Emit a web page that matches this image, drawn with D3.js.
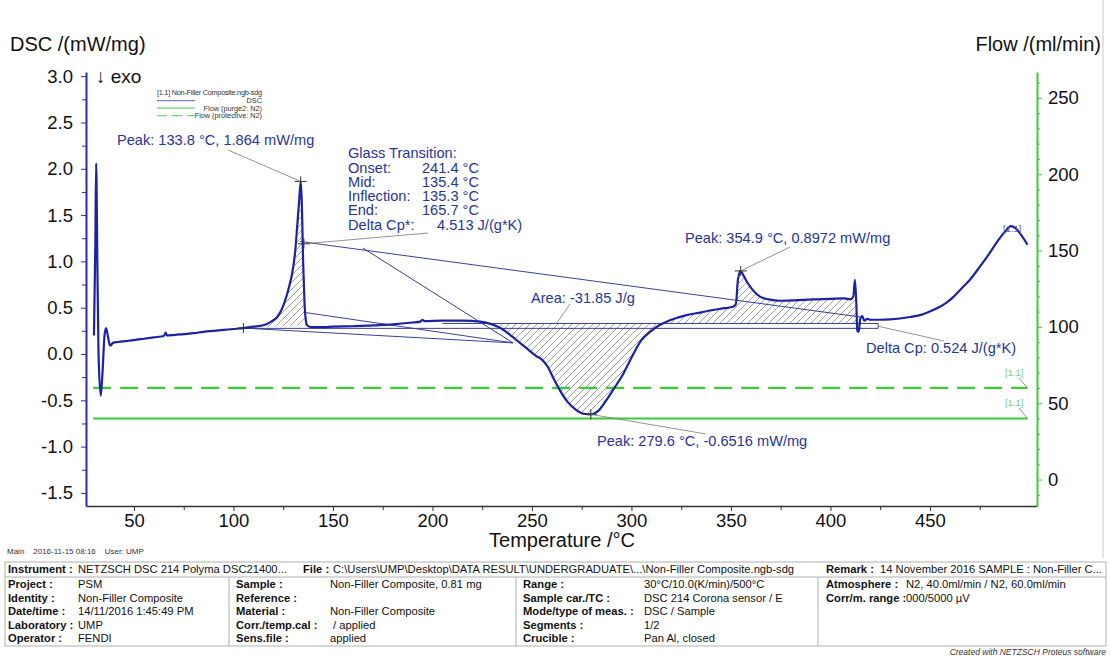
<!DOCTYPE html>
<html lang="en">
<head>
<meta charset="UTF-8">
<title>DSC - Non-Filler Composite</title>
<script src="https://d3js.org/d3.v7.min.js"></script>
<style>
  body { margin: 0; background: #fff; }
  svg { display: block; font-family: 'Liberation Sans', Arial, sans-serif; }
  .annot { fill: #27349a; font-size: 14.6px; }
  .tbl { font-size: 11.2px; fill: #111; }
  .lab { font-weight: bold; }
</style>
</head>
<body>
<svg id="chart" width="1110" height="658"></svg>
<script>
// DSC trace (temperature in °C, DSC in mW/mg)
const temps = [29.9, 30.6, 31.0, 31.6, 32.2, 33.3, 34.2, 35.2, 36.0, 37.0,
  38.0, 39.5, 42, 46, 50, 55, 60, 65, 66, 66.5,
  70, 75, 80, 85, 90, 95, 100, 105, 110, 115,
  119, 122, 124, 126, 128, 129.5, 131, 132, 133, 133.8,
  134.4, 135.0, 135.4, 135.8, 136.3, 137, 139, 145, 150, 160,
  170, 180, 190, 194, 195, 196, 205, 215, 224, 230,
  235, 240, 244, 248, 252, 255, 258, 261, 264, 268,
  272, 276, 279.6, 283, 287, 291, 296, 300, 305, 310,
  314, 320, 327.7, 335, 341, 347, 351, 352.5, 353.5, 354.9,
  356, 358, 361, 364.6, 369, 374.6, 382, 391, 400, 407,
  410, 411.5, 412.3, 413, 413.5, 414.2, 415, 416, 417, 418.5,
  420, 425, 430, 440, 445, 450, 455, 458, 462, 466,
  470, 475, 480, 484, 488.5, 490.5, 493, 496, 499];
const dsc = [0.20, 1.20, 2.06, 1.00, 0.00, -0.45, -0.20, 0.20, 0.28, 0.18,
  0.09, 0.12, 0.13, 0.14, 0.15, 0.165, 0.18, 0.195, 0.23, 0.20,
  0.205, 0.215, 0.225, 0.24, 0.25, 0.26, 0.27, 0.28, 0.295, 0.31,
  0.35, 0.40, 0.47, 0.58, 0.73, 0.87, 1.10, 1.37, 1.65, 1.864,
  1.60, 1.00, 0.75, 0.51, 0.38, 0.31, 0.29, 0.29, 0.295, 0.30,
  0.31, 0.32, 0.34, 0.35, 0.37, 0.355, 0.36, 0.36, 0.35, 0.32,
  0.27, 0.19, 0.12, 0.05, -0.02, -0.06, -0.14, -0.27, -0.39, -0.52,
  -0.60, -0.645, -0.6516, -0.62, -0.51, -0.38, -0.21, -0.04, 0.15, 0.25,
  0.31, 0.37, 0.42, 0.45, 0.475, 0.495, 0.51, 0.54, 0.80, 0.8972,
  0.86, 0.78, 0.69, 0.62, 0.59, 0.575, 0.58, 0.59, 0.595, 0.60,
  0.59, 0.62, 0.80, 0.55, 0.25, 0.24, 0.38, 0.41, 0.36, 0.38,
  0.37, 0.37, 0.375, 0.40, 0.42, 0.46, 0.51, 0.55, 0.62, 0.71,
  0.80, 0.94, 1.09, 1.22, 1.34, 1.38, 1.36, 1.28, 1.18];

// gas flows (ml/min)
const flowTemps = [29.5, 499];
const flowPurge = [40, 40];
const flowProtective = [60, 60];

// evaluation results
const peaks = [[133.8, 1.864], [279.6, -0.6516], [354.9, 0.8972]];
const glassPoint = [135.4, 1.19];
const onsetPoint = [105, 0.28];
const peak1Base = [[105, 0.28], [137, 0.31]];
const areaRange = [229, 413];
const areaBase = 0.33;
const constructionLines = [
  [[105, 0.277], [424, 0.277]],
  [[205, 0.33], [424, 0.33]],
  [[424, 0.277], [424, 0.33]],
  [[105, 0.28], [240.5, 0.12]],
  [[135.4, 0.45], [240.5, 0.12]],
  [[165, 1.145], [240.5, 0.12]],
  [[133.5, 1.215], [415, 0.40]]
];

// ticks
const xTicks = [50, 100, 150, 200, 250, 300, 350, 400, 450];
const xMinor = [75, 125, 175, 225, 275, 325, 375, 425, 475];
const yTicks = [-1.5, -1.0, -0.5, 0.0, 0.5, 1.0, 1.5, 2.0, 2.5, 3.0];
const yMinor = [-1.25, -0.75, -0.25, 0.25, 0.75, 1.25, 1.75, 2.25, 2.75];
const flowTicks = [0, 50, 100, 150, 200, 250];
const flowMinor = d3.range(-10, 261, 10).filter(d => d % 50 !== 0);

// info table
const headerRow = [
  ['Instrument :', 'NETZSCH DSC 214 Polyma DSC21400...'],
  ['File :', 'C:\\Users\\UMP\\Desktop\\DATA RESULT\\UNDERGRADUATE\\...\\Non-Filler Composite.ngb-sdg'],
  ['Remark :', '14 November 2016 SAMPLE : Non-Filler C...']
];
const tableRows = [
  ['Project :', 'PSM', 'Sample :', 'Non-Filler Composite, 0.81 mg', 'Range :', '30°C/10.0(K/min)/500°C', 'Atmosphere :', 'N2, 40.0ml/min / N2, 60.0ml/min'],
  ['Identity :', 'Non-Filler Composite', 'Reference :', '', 'Sample car./TC :', 'DSC 214 Corona sensor / E', 'Corr/m. range :', '000/5000 µV'],
  ['Date/time :', '14/11/2016 1:45:49 PM', 'Material :', 'Non-Filler Composite', 'Mode/type of meas. :', 'DSC / Sample', '', ''],
  ['Laboratory :', 'UMP', 'Corr./temp.cal :', ' / applied', 'Segments :', '1/2', '', ''],
  ['Operator :', 'FENDI', 'Sens.file :', 'applied', 'Crucible :', 'Pan Al, closed', '', '']
];

const svg = d3.select('#chart');
const x = d3.scaleLinear().domain([25.9, 503.8]).range([86, 1037]);
const y = d3.scaleLinear().domain([-1.641, 3.045]).range([506, 72]);
const yFlow = d3.scaleLinear().domain([-17.3, 266.9]).range([506, 72]);

const curveBlue = '#1b22a3';
const green = '#3acb3a';
const pts = temps.map((t, i) => [t, dsc[i]]);

// hatch pattern
const defs = svg.append('defs');
defs.append('pattern')
  .attr('id', 'hatch')
  .attr('patternUnits', 'userSpaceOnUse')
  .attr('width', 7).attr('height', 7)
  .append('path')
  .attr('d', 'M-1,1 l2,-2 M0,7 l7,-7 M6,8 l2,-2')
  .attr('stroke', '#8c8c8c')
  .attr('stroke-width', 0.8);

// hatched areas
const base1 = t => peak1Base[0][1] + (t - peak1Base[0][0]) * (peak1Base[1][1] - peak1Base[0][1]) / (peak1Base[1][0] - peak1Base[0][0]);
const area1 = d3.area().x(d => x(d[0])).y0(d => y(base1(d[0]))).y1(d => y(d[1])).curve(d3.curveMonotoneX);
svg.append('path')
  .datum(pts.filter(d => d[0] >= peak1Base[0][0] && d[0] <= peak1Base[1][0]))
  .attr('d', area1)
  .attr('fill', 'url(#hatch)');
const area2 = d3.area().x(d => x(d[0])).y0(y(areaBase)).y1(d => y(d[1])).curve(d3.curveMonotoneX);
svg.append('path')
  .datum(pts.filter(d => d[0] >= areaRange[0] && d[0] <= areaRange[1]))
  .attr('d', area2)
  .attr('fill', 'url(#hatch)');

// construction lines
svg.append('g')
  .selectAll('line')
  .data(constructionLines)
  .join('line')
  .attr('x1', d => x(d[0][0])).attr('y1', d => y(d[0][1]))
  .attr('x2', d => x(d[1][0])).attr('y2', d => y(d[1][1]))
  .attr('stroke', '#3a3f9a')
  .attr('stroke-width', 1);

// flow lines
svg.append('line')
  .attr('x1', x(flowTemps[0])).attr('x2', x(flowTemps[1]))
  .attr('y1', yFlow(flowProtective[0])).attr('y2', yFlow(flowProtective[1]))
  .attr('stroke', green).attr('stroke-width', 2.2)
  .attr('stroke-dasharray', '18,9');
svg.append('line')
  .attr('x1', x(flowTemps[0])).attr('x2', x(flowTemps[1]))
  .attr('y1', yFlow(flowPurge[0])).attr('y2', yFlow(flowPurge[1]))
  .attr('stroke', green).attr('stroke-width', 2);

// DSC curve
svg.append('path')
  .datum(pts)
  .attr('d', d3.line().x(d => x(d[0])).y(d => y(d[1])).curve(d3.curveMonotoneX))
  .attr('fill', 'none')
  .attr('stroke', curveBlue)
  .attr('stroke-width', 2.2)
  .attr('stroke-linejoin', 'round');

// cross markers
const crossPts = peaks.concat([glassPoint, onsetPoint]);
const crosses = svg.append('g').attr('stroke', '#333').attr('stroke-width', 1);
crossPts.forEach(p => {
  const cx = x(p[0]), cy = y(p[1]);
  crosses.append('line').attr('x1', cx - 6).attr('x2', cx + 6).attr('y1', cy).attr('y2', cy);
  crosses.append('line').attr('x1', cx).attr('x2', cx).attr('y1', cy - 5).attr('y2', cy + 5);
});

// leader lines from labels
const leaders = svg.append('g').attr('stroke', '#777').attr('stroke-width', 0.8);
const leader = (p, lx, ly) => leaders.append('line')
  .attr('x1', x(p[0])).attr('y1', y(p[1])).attr('x2', lx).attr('y2', ly);
leader(peaks[0], 228, 150);
leader(glassPoint, 428, 233);
leader(peaks[2], 790, 247);
leader(peaks[1], 706, 434);
leader([424, 0.30], 944, 341);
leader([262.5, 0.335], 570, 304);

// annotation text
const note = (tx, ty, str) => svg.append('text').attr('class', 'annot')
  .attr('x', tx).attr('y', ty).text(str);
note(117, 145, 'Peak: 133.8 °C, 1.864 mW/mg');
note(348, 158, 'Glass Transition:');
[['Onset:', '241.4 °C'], ['Mid:', '135.4 °C'], ['Inflection:', '135.3 °C'], ['End:', '165.7 °C']]
  .forEach((r, i) => {
    note(348, 172.5 + i * 14.2, r[0]);
    note(422, 172.5 + i * 14.2, r[1]);
  });
note(348, 229.5, 'Delta Cp*:');
note(437, 229.5, '4.513 J/(g*K)');
note(685, 243, 'Peak: 354.9 °C, 0.8972 mW/mg');
note(531, 303, 'Area: -31.85 J/g');
note(866, 353, 'Delta Cp: 0.524 J/(g*K)');
note(597, 446, 'Peak: 279.6 °C, -0.6516 mW/mg');

// [1.1] tags
svg.append('text').attr('x', 1003).attr('y', 232).attr('font-size', 9.5).attr('fill', '#5b63b5').text('[1.1]');
svg.append('text').attr('x', 1005).attr('y', 376).attr('font-size', 9.5).attr('fill', '#79cf79').text('[1.1]');
svg.append('text').attr('x', 1005).attr('y', 406).attr('font-size', 9.5).attr('fill', '#79cf79').text('[1.1]');
leaders.append('line').attr('x1', 1019).attr('y1', 378).attr('x2', x(flowTemps[1])).attr('y2', yFlow(flowProtective[1]));
leaders.append('line').attr('x1', 1019).attr('y1', 408).attr('x2', x(flowTemps[1])).attr('y2', yFlow(flowPurge[1]));

// axes
const fontFam = "'Liberation Sans', Arial, sans-serif";
const tickFont = 18.5;
const gx = svg.append('g')
  .attr('transform', 'translate(0,506)')
  .call(d3.axisBottom(x).tickValues(xTicks).tickSize(5).tickSizeOuter(0).tickPadding(3).tickFormat(d3.format('d')))
  .attr('font-size', tickFont).attr('font-family', fontFam);
gx.select('.domain').attr('stroke', '#333').attr('stroke-width', 1.5);
gx.selectAll('.tick line').attr('stroke', '#333');
gx.selectAll('.tick text').attr('fill', '#111');
svg.append('g')
  .attr('transform', 'translate(0,506)')
  .call(d3.axisBottom(x).tickValues(xMinor).tickSize(4).tickFormat(''))
  .call(g => g.select('.domain').remove())
  .selectAll('line').attr('stroke', '#333');

const gy = svg.append('g')
  .attr('transform', 'translate(86,0)')
  .call(d3.axisLeft(y).tickValues(yTicks).tickSize(5).tickSizeOuter(0).tickPadding(8).tickFormat(d => d.toFixed(1)))
  .attr('font-size', tickFont).attr('font-family', fontFam);
gy.select('.domain').attr('stroke', '#2a2ab8').attr('stroke-width', 2);
gy.selectAll('.tick line').attr('stroke', '#2a2ab8');
gy.selectAll('.tick text').attr('fill', '#111');
svg.append('g')
  .attr('transform', 'translate(86,0)')
  .call(d3.axisLeft(y).tickValues(yMinor).tickSize(4).tickFormat(''))
  .call(g => g.select('.domain').remove())
  .selectAll('line').attr('stroke', '#2a2ab8');

const gr = svg.append('g')
  .attr('transform', 'translate(1037,0)')
  .call(d3.axisRight(yFlow).tickValues(flowTicks).tickSize(5).tickSizeOuter(0).tickPadding(6))
  .attr('font-size', tickFont).attr('font-family', fontFam);
gr.select('.domain').attr('stroke', green).attr('stroke-width', 2);
gr.selectAll('.tick line').attr('stroke', green);
gr.selectAll('.tick text').attr('fill', '#111');
svg.append('g')
  .attr('transform', 'translate(1037,0)')
  .call(d3.axisRight(yFlow).tickValues(flowMinor).tickSize(3).tickFormat(''))
  .call(g => g.select('.domain').remove())
  .selectAll('line').attr('stroke', green);

// titles
svg.append('text').attr('x', 10).attr('y', 51).attr('font-size', 20).attr('fill', '#111').text('DSC /(mW/mg)');
svg.append('text').attr('x', 1101).attr('y', 51).attr('font-size', 20).attr('fill', '#111')
  .attr('text-anchor', 'end').text('Flow /(ml/min)');
svg.append('text').attr('x', 96).attr('y', 83).attr('font-size', 19).attr('fill', '#111').text('↓ exo');
svg.append('text').attr('x', 562).attr('y', 547).attr('font-size', 20).attr('fill', '#111')
  .attr('text-anchor', 'middle').text('Temperature /°C');

// small legend
const lg = svg.append('g').attr('font-size', 7.3).attr('fill', '#333');
lg.append('text').attr('x', 157).attr('y', 95).attr('textLength', 105).attr('lengthAdjust', 'spacing')
  .text('[1.1]  Non-Filler Composite.ngb-sdg');
lg.append('text').attr('x', 262).attr('y', 103).attr('text-anchor', 'end').text('DSC');
lg.append('text').attr('x', 262).attr('y', 110.5).attr('text-anchor', 'end').text('Flow (purge2: N2)');
lg.append('text').attr('x', 262).attr('y', 118).attr('text-anchor', 'end').text('Flow (protective: N2)');
lg.append('line').attr('x1', 157).attr('x2', 195).attr('y1', 100.7).attr('y2', 100.7).attr('stroke', '#8080cc').attr('stroke-width', 1.2);
lg.append('line').attr('x1', 157).attr('x2', 195).attr('y1', 108.2).attr('y2', 108.2).attr('stroke', '#66dd66').attr('stroke-width', 1.2);
lg.append('line').attr('x1', 157).attr('x2', 196).attr('y1', 115.7).attr('y2', 115.7).attr('stroke', '#66dd66').attr('stroke-width', 1.2).attr('stroke-dasharray', '10,5');

// footer info
svg.append('text').attr('x', 7).attr('y', 554).attr('font-size', 8).attr('fill', '#333')
  .attr('xml:space', 'preserve')
  .text('Main    2016-11-15 08:16    User: UMP');

const tbl = svg.append('g').attr('class', 'tbl');
const borders = svg.append('g').attr('stroke', '#b0b0b0').attr('stroke-width', 1).attr('fill', 'none');
borders.append('rect').attr('x', 5).attr('y', 562).attr('width', 1101).attr('height', 84);
borders.append('line').attr('x1', 5).attr('x2', 1106).attr('y1', 577).attr('y2', 577);
[229, 516, 818].forEach(vx => borders.append('line').attr('x1', vx).attr('x2', vx).attr('y1', 577).attr('y2', 646));

const headerX = [[8, 78], [303, 333], [826, 880]];
headerRow.forEach((h, i) => {
  tbl.append('text').attr('class', 'lab').attr('x', headerX[i][0]).attr('y', 573).text(h[0]);
  tbl.append('text').attr('x', headerX[i][1]).attr('y', 573).text(h[1]);
});
const colX = [8, 78, 236, 330, 523, 644, 826, 906];
tableRows.forEach((row, r) => {
  row.forEach((cell, c) => {
    if (!cell) return;
    tbl.append('text')
      .attr('class', c % 2 === 0 ? 'lab' : null)
      .attr('x', colX[c]).attr('y', 588 + r * 13.6)
      .attr('xml:space', 'preserve')
      .text(cell);
  });
});
svg.append('text').attr('x', 1106).attr('y', 655).attr('font-size', 8.5).attr('font-style', 'italic')
  .attr('fill', '#333').attr('text-anchor', 'end').text('Created with NETZSCH Proteus software');

// right frame edge
svg.append('line').attr('x1', 1103).attr('x2', 1103).attr('y1', 0).attr('y2', 558).attr('stroke', '#c8c8c8');
</script>
</body>
</html>
